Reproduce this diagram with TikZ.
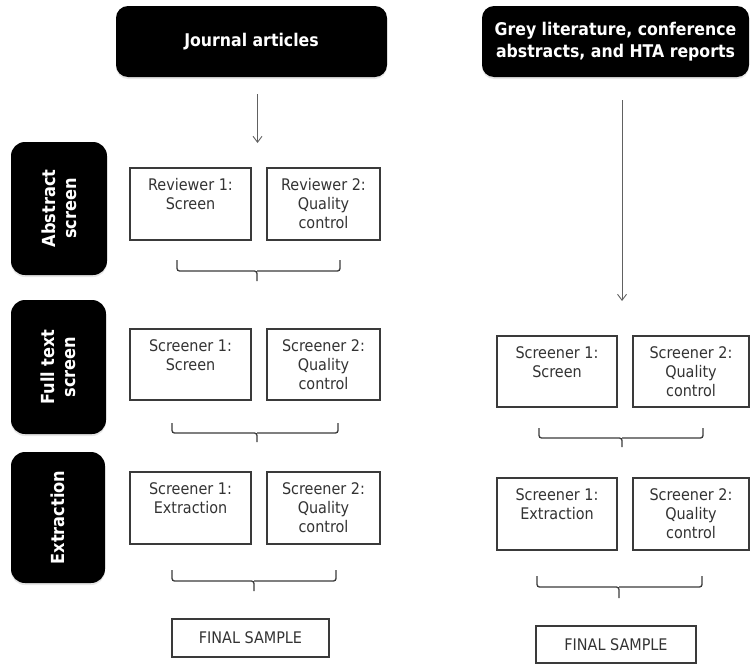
\documentclass[tikz,border=0pt]{standalone}
\usepackage{fontspec}
\setmainfont{DejaVu Sans Condensed}
\usetikzlibrary{arrows.meta,shadows}
\definecolor{txtgray}{HTML}{333333}
\definecolor{linegray}{HTML}{3a3a3a}
\tikzset{
  hdr/.style={fill=black, rounded corners=12pt, draw=none, text=white,
    font=\fontsize{17.5}{22}\selectfont\bfseries, align=center, inner sep=0pt,
    drop shadow={opacity=0.2, shadow xshift=0pt, shadow yshift=-2pt}},
  side/.style={fill=black, rounded corners=14pt, draw=none, inner sep=0pt,
    drop shadow={opacity=0.2, shadow xshift=0pt, shadow yshift=-2pt}},
  sidetext/.style={text=white, rotate=90, align=center, inner sep=0pt,
    font=\fontsize{18}{21}\selectfont\bfseries},
  cbox/.style={draw=linegray, line width=1.1pt, inner sep=0pt},
  ctext/.style={text=txtgray, align=center, inner sep=0pt, anchor=north,
    font=\fontsize{16}{19}\selectfont},
  ftext/.style={text=txtgray, inner sep=0pt, font=\fontsize{16}{19}\selectfont},
  brc/.style={draw=linegray, line width=1.3pt, rounded corners=2.5pt},
  arr/.style={draw=linegray!80, line width=0.9pt, -{Straight Barb[length=6pt,width=9pt]}},
}
\begin{document}
\begin{tikzpicture}[x=1pt,y=-1pt]
\useasboundingbox (0,0) rectangle (750,664);

% headers
\node[hdr, minimum width=271pt, minimum height=71pt] (ja) at (251.5,41.5) {Journal articles};
\node[hdr, minimum width=267pt, minimum height=71pt] (gl) at (615.5,41.5) {Grey literature, conference\\abstracts, and HTA reports};

% side labels
\node[side, minimum width=96pt, minimum height=133pt] (as) at (59,208.5) {};
\node[sidetext] (ast) at (as.center) {Abstract\\screen};
\node[side, minimum width=95pt, minimum height=134pt] (ft) at (58.5,367) {};
\node[sidetext] (ftt) at (ft.center) {Full text\\screen};
\node[side, minimum width=94pt, minimum height=131pt] (ex) at (58,517.5) {};
\node[sidetext] (ext) at (ex.center) {Extraction};

% left column boxes
\node[cbox, minimum width=121pt, minimum height=72pt] (r1) at (190.5,204) {};
\node[ctext] (r1t) at ([yshift=-11pt]r1.north) {Reviewer 1:\\Screen};
\node[cbox, minimum width=113pt, minimum height=72pt] (r2) at (323.5,204) {};
\node[ctext] (r2t) at ([yshift=-11pt]r2.north) {Reviewer 2:\\Quality\\control};

\node[cbox, minimum width=121pt, minimum height=71pt] (s1) at (190.5,364.5) {};
\node[ctext] (s1t) at ([yshift=-11pt]s1.north) {Screener 1:\\Screen};
\node[cbox, minimum width=113pt, minimum height=71pt] (s2) at (323.5,364.5) {};
\node[ctext] (s2t) at ([yshift=-11pt]s2.north) {Screener 2:\\Quality\\control};

\node[cbox, minimum width=121pt, minimum height=72pt] (e1) at (190.5,508) {};
\node[ctext] (e1t) at ([yshift=-11pt]e1.north) {Screener 1:\\Extraction};
\node[cbox, minimum width=113pt, minimum height=72pt] (e2) at (323.5,508) {};
\node[ctext] (e2t) at ([yshift=-11pt]e2.north) {Screener 2:\\Quality\\control};

\node[cbox, minimum width=157pt, minimum height=38pt] (fl) at (250.5,638) {};
\node[ftext] (flt) at (fl.center) {FINAL SAMPLE};

% right column boxes
\node[cbox, minimum width=120pt, minimum height=71pt] (rs1) at (557,371.5) {};
\node[ctext] (rs1t) at ([yshift=-11pt]rs1.north) {Screener 1:\\Screen};
\node[cbox, minimum width=116pt, minimum height=71pt] (rs2) at (691,371.5) {};
\node[ctext] (rs2t) at ([yshift=-11pt]rs2.north) {Screener 2:\\Quality\\control};

\node[cbox, minimum width=120pt, minimum height=72pt] (re1) at (557,514) {};
\node[ctext] (re1t) at ([yshift=-11pt]re1.north) {Screener 1:\\Extraction};
\node[cbox, minimum width=116pt, minimum height=72pt] (re2) at (691,514) {};
\node[ctext] (re2t) at ([yshift=-11pt]re2.north) {Screener 2:\\Quality\\control};

\node[cbox, minimum width=160pt, minimum height=37pt] (fr) at (616,644.5) {};
\node[ftext] (frt) at (fr.center) {FINAL SAMPLE};

% arrows
\coordinate (a1s) at (257.5,94);
\coordinate (a1e) at (257.5,143);
\draw[arr] (a1s) -- (a1e);
\coordinate (a2s) at (622,100);
\coordinate (a2e) at (622,301);
\draw[arr] (a2s) -- (a2e);

% braces
\draw[brc] (177,260) -- (177,271) -- (257,271) -- (257,281);
\draw[brc] (340,260) -- (340,271) -- (257,271);
\draw[brc] (172,423) -- (172,433) -- (257,433) -- (257,442);
\draw[brc] (338,423) -- (338,433) -- (257,433);
\draw[brc] (172,570) -- (172,581) -- (254,581) -- (254,591);
\draw[brc] (336,570) -- (336,581) -- (254,581);
\draw[brc] (539,428) -- (539,438) -- (622,438) -- (622,447);
\draw[brc] (703,428) -- (703,438) -- (622,438);
\draw[brc] (537,576) -- (537,587) -- (619,587) -- (619,598);
\draw[brc] (702,576) -- (702,587) -- (619,587);
\end{tikzpicture}
\end{document}
